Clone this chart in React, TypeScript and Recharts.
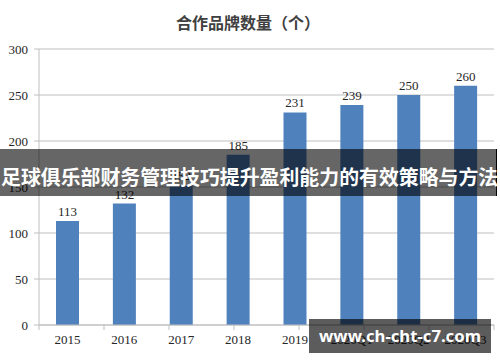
import { BarChart, Bar, XAxis, YAxis, CartesianGrid, LabelList } from 'recharts';

const years = ['2015', '2016', '2017', '2018', '2019', '2020Q1', '2020Q2', '2020Q3'];
const brandCounts = [113, 132, 152, 185, 231, 239, 250, 260];
const yTicks = [0, 50, 100, 150, 200, 250, 300];
const edgeTicks = [0, 1, 2, 3, 4, 5, 6, 7, 8];

const chartTitle = '合作品牌数量（个）';
const bannerText = '足球俱乐部财务管理技巧提升盈利能力的有效策略与方法';
const watermarkText = 'www.ch-cht-c7.com';

const data = years.map((year, i) => ({ year, count: brandCounts[i] }));

const serif = '"Liberation Serif", "DejaVu Serif", serif';
const cjk = '"Noto Sans CJK SC", "Noto Sans", sans-serif';

export default function App() {
  return (
    <div style={{ position: 'relative', width: 500, height: 362, background: '#fff', overflow: 'hidden' }}>
      <style>{'body{margin:0}'}</style>
      <div
        style={{
          position: 'absolute',
          left: 0,
          top: 12,
          width: 496,
          textAlign: 'center',
          fontFamily: cjk,
          fontWeight: 700,
          fontSize: 16,
          lineHeight: '20px',
          color: '#404040',
        }}
      >
        {chartTitle}
      </div>
      <BarChart width={500} height={362} data={data} margin={{ top: 49, right: 6, left: 0, bottom: 6 }}>
        <CartesianGrid vertical={false} stroke="#bfbfbf" />
        {/* boundary tick marks, numeric id 0 so it sits right under the plot */}
        <XAxis
          xAxisId={0}
          type="number"
          domain={[0, 8]}
          ticks={edgeTicks}
          interval={0}
          allowDataOverflow
          height={6}
          stroke="#bfbfbf"
          tickSize={5}
          tick={() => <g />}
        />
        <XAxis
          xAxisId={1}
          dataKey="year"
          height={25}
          axisLine={false}
          tickLine={false}
          tickSize={0}
          tickMargin={4}
          interval={0}
          tick={{ fill: '#262626', fontSize: 13, fontFamily: serif }}
        />
        <YAxis
          width={39}
          domain={[0, 300]}
          ticks={yTicks}
          stroke="#bfbfbf"
          tickSize={5}
          tickMargin={6}
          tick={{ fill: '#262626', fontSize: 13, fontFamily: serif }}
        />
        <Bar dataKey="count" xAxisId={1} fill="#4f81bd" barSize={23} isAnimationActive={false}>
          <LabelList dataKey="count" position="top" offset={5} fill="#262626" fontSize={13} fontFamily={serif} />
        </Bar>
      </BarChart>
      <div
        style={{
          position: 'absolute',
          left: 0,
          top: 149,
          width: 497,
          height: 47,
          background: 'rgba(0,0,0,0.6)',
          borderRight: '1px solid #000',
          color: '#fff',
          fontFamily: cjk,
          fontWeight: 700,
          fontSize: 19.9,
          lineHeight: '47px',
          paddingTop: 4,
          paddingLeft: 1,
          boxSizing: 'border-box',
          whiteSpace: 'nowrap',
          textAlign: 'left',
        }}
      >
        {bannerText}
      </div>
      <div
        style={{
          position: 'absolute',
          left: 309,
          top: 319,
          width: 182,
          height: 34,
          background: 'rgba(0,0,0,0.64)',
          color: '#fff',
          fontFamily: '"Noto Sans", "DejaVu Sans", sans-serif',
          fontWeight: 700,
          fontSize: 16.7,
          lineHeight: '34px',
          textAlign: 'center',
          whiteSpace: 'nowrap',
        }}
      >
        {watermarkText}
      </div>
    </div>
  );
}
